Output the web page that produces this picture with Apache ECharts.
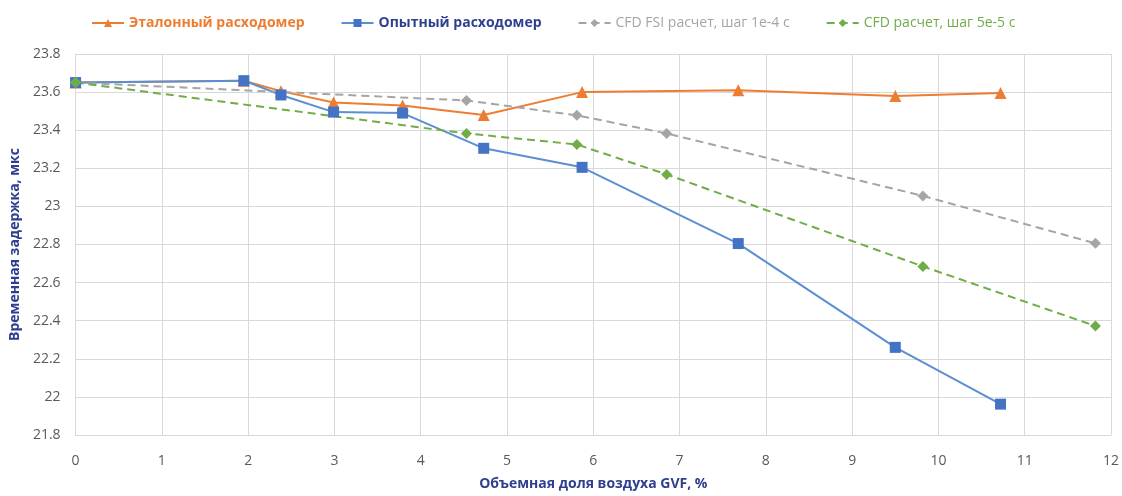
<!DOCTYPE html>
<html>
<head>
<meta charset="utf-8">
<script src="https://cdn.jsdelivr.net/npm/echarts@6/dist/echarts.min.js"></script>
<style>html,body{margin:0;padding:0;background:#fff}#c{width:1122px;height:496px}</style>
</head>
<body>
<div id="c"></div>
<script>
const seriesNames = ['Эталонный расходомер', 'Опытный расходомер', 'CFD FSI расчет, шаг 1e-4 c', 'CFD расчет, шаг 5e-5 c'];
const refX = [0, 1.95, 2.38, 2.99, 3.79, 4.73, 5.87, 7.68, 9.5, 10.72];
const refY = [23.65, 23.66, 23.605, 23.545, 23.53, 23.48, 23.6, 23.61, 23.58, 23.595];
const expX = [0, 1.95, 2.38, 2.99, 3.79, 4.73, 5.87, 7.68, 9.5, 10.72];
const expY = [23.65, 23.66, 23.585, 23.495, 23.49, 23.305, 23.205, 22.805, 22.26, 21.962];
const fsiX = [0, 4.53, 5.81, 6.85, 9.82, 11.82];
const fsiY = [23.65, 23.556, 23.478, 23.383, 23.055, 22.806];
const cfdX = [0, 4.53, 5.81, 6.85, 9.82, 11.82];
const cfdY = [23.65, 23.383, 23.325, 23.168, 22.685, 22.372];
const xAxisTitle = 'Объемная доля воздуха GVF, %';
const yAxisTitle = 'Временная задержка, мкс';

const zip = (xs, ys) => xs.map((x, i) => [x, ys[i]]);
const font = '"Open Sans", sans-serif';
const chart = echarts.init(document.getElementById('c'), null, {renderer: 'canvas'});
const legendColors = ['#ED7D31', '#2F3F8F', '#A5A5A5', '#70AD47'];
chart.setOption({
  animation: false,
  backgroundColor: '#fff',
  grid: {left: 74, right: 10, top: 54, bottom: 58},
  legend: {
    top: 11, left: 86, itemWidth: 32, itemHeight: 10, itemGap: 36,
    textStyle: {fontFamily: font, fontSize: 14, fontWeight: 'bold'},
    data: seriesNames.map((n, i) => ({name: n, textStyle: {color: legendColors[i], fontWeight: i >= 2 ? 'normal' : 'bold'}}))
  },
  xAxis: {
    type: 'value', min: 0, max: 12, interval: 1,
    name: xAxisTitle, nameLocation: 'middle', nameGap: 42,
    nameTextStyle: {fontFamily: font, fontSize: 14, fontWeight: 'bold', color: '#2F3F8F'},
    axisLine: {show: true, lineStyle: {color: '#D9D9D9'}},
    axisTick: {show: false},
    axisLabel: {fontFamily: font, fontSize: 14, color: '#595959', margin: 19},
    splitLine: {show: true, lineStyle: {color: '#D9D9D9'}}
  },
  yAxis: {
    type: 'value', min: 21.8, max: 23.8, interval: 0.2,
    name: yAxisTitle, nameLocation: 'middle', nameGap: 52, nameRotate: 90,
    nameTextStyle: {fontFamily: font, fontSize: 14, fontWeight: 'bold', color: '#2F3F8F'},
    axisLine: {show: true, lineStyle: {color: '#D9D9D9'}},
    axisTick: {show: false},
    axisLabel: {fontFamily: font, fontSize: 14, color: '#595959', margin: 15,
      formatter: v => String(+v.toFixed(1))},
    splitLine: {show: true, lineStyle: {color: '#D9D9D9'}}
  },
  series: [
    {name: seriesNames[0], type: 'line', data: zip(refX, refY), symbol: 'triangle', symbolSize: 12,
     lineStyle: {color: '#ED7D31', width: 2}, itemStyle: {color: '#ED7D31'}},
    {name: seriesNames[1], type: 'line', data: zip(expX, expY), symbol: 'rect', symbolSize: 11,
     lineStyle: {color: '#5B8FD3', width: 2}, itemStyle: {color: '#4472C4'}},
    {name: seriesNames[2], type: 'line', data: zip(fsiX, fsiY), symbol: 'diamond', symbolSize: 11,
     lineStyle: {color: '#A5A5A5', width: 2, type: [8, 5]}, itemStyle: {color: '#A5A5A5'}},
    {name: seriesNames[3], type: 'line', data: zip(cfdX, cfdY), symbol: 'diamond', symbolSize: 11,
     lineStyle: {color: '#70AD47', width: 2, type: [8, 5]}, itemStyle: {color: '#70AD47'}}
  ]
});
</script>
</body>
</html>
